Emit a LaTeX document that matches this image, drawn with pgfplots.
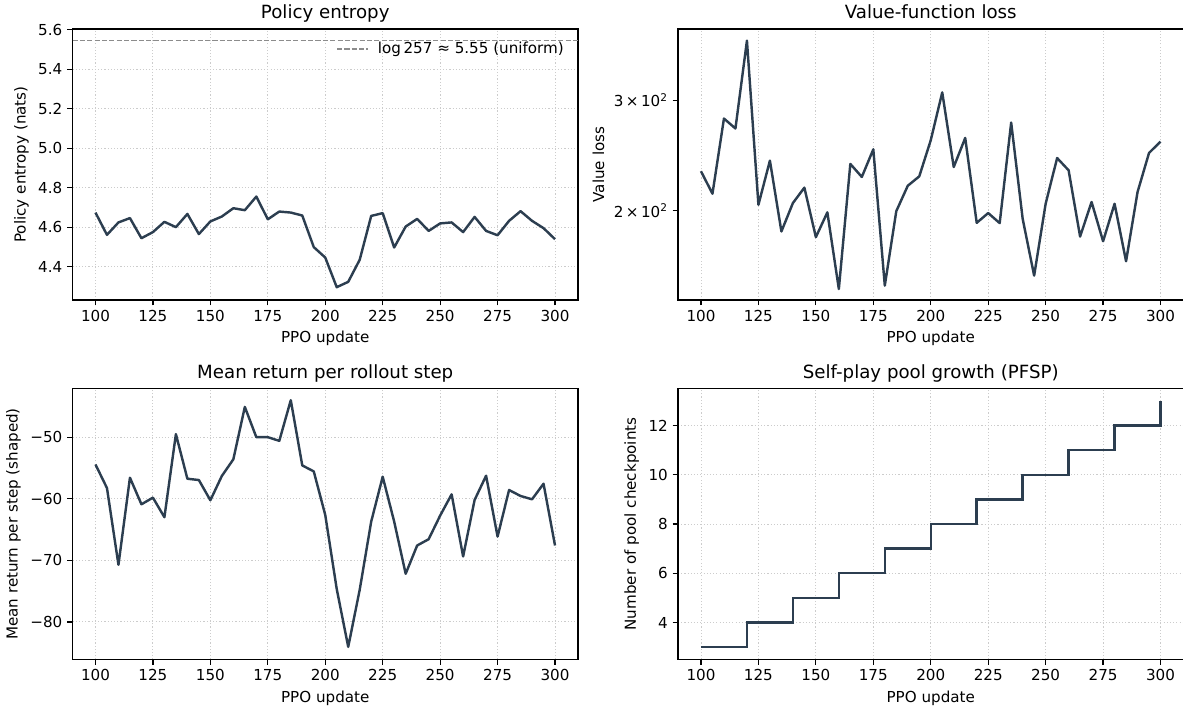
\documentclass[border=0pt]{standalone}
\usepackage{fontspec}
\setmainfont{DejaVu Sans}
\usepackage{pgfplots}
\pgfplotsset{compat=1.18}
\definecolor{navy}{HTML}{2C3E50}

\pgfplotsset{
 myaxis/.style={
  scale only axis, width=363.96pt, height=195.12pt, anchor=south west,
  xmin=90, xmax=310, xtick={100,125,...,300},
  tick pos=left, tick align=outside, major tick length=3.8pt,
  every tick/.style={black, line width=0.85pt},
  axis line style={black, line width=0.85pt},
  grid style={gray!40, line width=0.65pt, dash pattern=on 0.8pt off 1.5pt},
  xmajorgrids,
  tick label style={font=\fontsize{10.9}{13}\selectfont},
  label style={font=\fontsize{10.9}{13}\selectfont},
  every axis title/.style={font=\fontsize{13.1}{15}\selectfont, at={(0.5,1)}, anchor=base, yshift=7.2pt},
  /pgf/number format/assume math mode=true,
  xlabel={PPO update},
 },
 dataline/.style={navy, line width=1.75pt, line join=round, mark=none},
}

\pgfplotstableread{
x y
100 4.674
105 4.561
110 4.624
115 4.646
120 4.544
125 4.575
130 4.627
135 4.600
140 4.667
145 4.565
150 4.629
155 4.654
160 4.696
165 4.686
170 4.755
175 4.640
180 4.679
185 4.674
190 4.659
195 4.499
200 4.446
205 4.296
210 4.323
215 4.435
220 4.657
225 4.671
230 4.497
235 4.603
240 4.642
245 4.581
250 4.619
255 4.624
260 4.575
265 4.652
270 4.581
275 4.559
280 4.632
285 4.681
290 4.632
295 4.595
300 4.539
}\entropy

\pgfplotstableread{
x y
100 231.0
105 212.7
110 280.4
115 270.3
120 373.4
125 204.2
130 240.2
135 185.1
140 205.5
145 217.5
150 181.3
155 198.6
160 149.8
165 237.3
170 226.2
175 250.4
180 151.7
185 199.5
190 219.0
195 226.7
200 258.9
205 308.7
210 234.6
215 261.1
220 191.1
225 198.1
230 190.9
235 276.3
240 194.0
245 157.4
250 205.0
255 242.5
260 231.8
265 181.7
270 206.3
275 178.6
280 205.0
285 165.9
290 214.0
295 247.1
300 257.6
}\vloss

\pgfplotstableread{
x y
100 -54.43
105 -58.26
110 -70.72
115 -56.58
120 -60.90
125 -59.82
130 -63.00
135 -49.51
140 -56.75
145 -56.96
150 -60.25
155 -56.30
160 -53.60
165 -45.09
170 -50.00
175 -50.00
180 -50.60
185 -44.00
190 -54.59
195 -55.56
200 -62.63
205 -74.66
210 -84.05
215 -74.77
220 -63.71
225 -56.42
230 -63.71
235 -72.18
240 -67.59
245 -66.57
250 -62.74
255 -59.28
260 -69.37
265 -60.20
270 -56.26
275 -66.14
280 -58.58
285 -59.55
290 -60.09
295 -57.56
300 -67.59
}\meanret

\pgfplotstableread{
x y
100 3
120 4
140 5
160 6
180 7
200 8
220 9
240 10
260 11
280 12
300 13
}\pool

\begin{document}
\begin{tikzpicture}
\useasboundingbox (0,0) rectangle (851.76pt,509.76pt);

% Top-left: policy entropy
\begin{axis}[myaxis, at={(52.2pt,293.76pt)},
  title={Policy entropy}, ylabel={Policy entropy (nats)},
  ymin=4.231, ymax=5.604, ymajorgrids,
  ytick={4.4,4.6,4.8,5.0,5.2,5.4,5.6},
  yticklabel style={/pgf/number format/.cd, fixed, fixed zerofill, precision=1},
  legend style={draw=none, fill=none, at={(0.978,0.926)}, anchor=east, inner sep=0pt,
    font=\fontsize{10.9}{13}\selectfont},
  legend image code/.code={\draw[#1] (0pt,0pt) -- (22.3pt,0pt); \path (27pt,0pt);},
  ]
\addplot[dataline, forget plot] table[x=x,y=y] {\entropy};
\addplot[black!45, line width=1pt, dash pattern=on 3.7pt off 1.6pt] coordinates {(90,5.547) (310,5.547)};
\addlegendentry{log\,257 ≈ 5.55 (uniform)}
\end{axis}

% Top-right: value loss
\begin{axis}[myaxis, at={(488.16pt,293.76pt)},
  title={Value-function loss}, ylabel={Value loss},
  ymode=log, ymin=143.9, ymax=389.8,
  ytick={200,300},
  yticklabels={2\,×\,10\textsuperscript{2}, 3\,×\,10\textsuperscript{2}},
  ]
\addplot[dataline] table[x=x,y=y] {\vloss};
\end{axis}

% Bottom-left: mean return
\begin{axis}[myaxis, at={(52.2pt,34.92pt)},
  title={Mean return per rollout step}, ylabel={Mean return per step (shaped)},
  ymin=-86.1, ymax=-42.1, ymajorgrids,
  ytick={-80,-70,-60,-50},
  yticklabels={−80,−70,−60,−50},
  ]
\addplot[dataline] table[x=x,y=y] {\meanret};
\end{axis}

% Bottom-right: pool growth
\begin{axis}[myaxis, at={(488.16pt,34.92pt)},
  title={Self-play pool growth (PFSP)}, ylabel={Number of pool checkpoints},
  ymin=2.5, ymax=13.5, ymajorgrids,
  ytick={4,6,8,10,12},
  ]
\addplot[dataline, const plot mark left, line join=miter] table[x=x,y=y] {\pool};
\end{axis}
\end{tikzpicture}
\end{document}
